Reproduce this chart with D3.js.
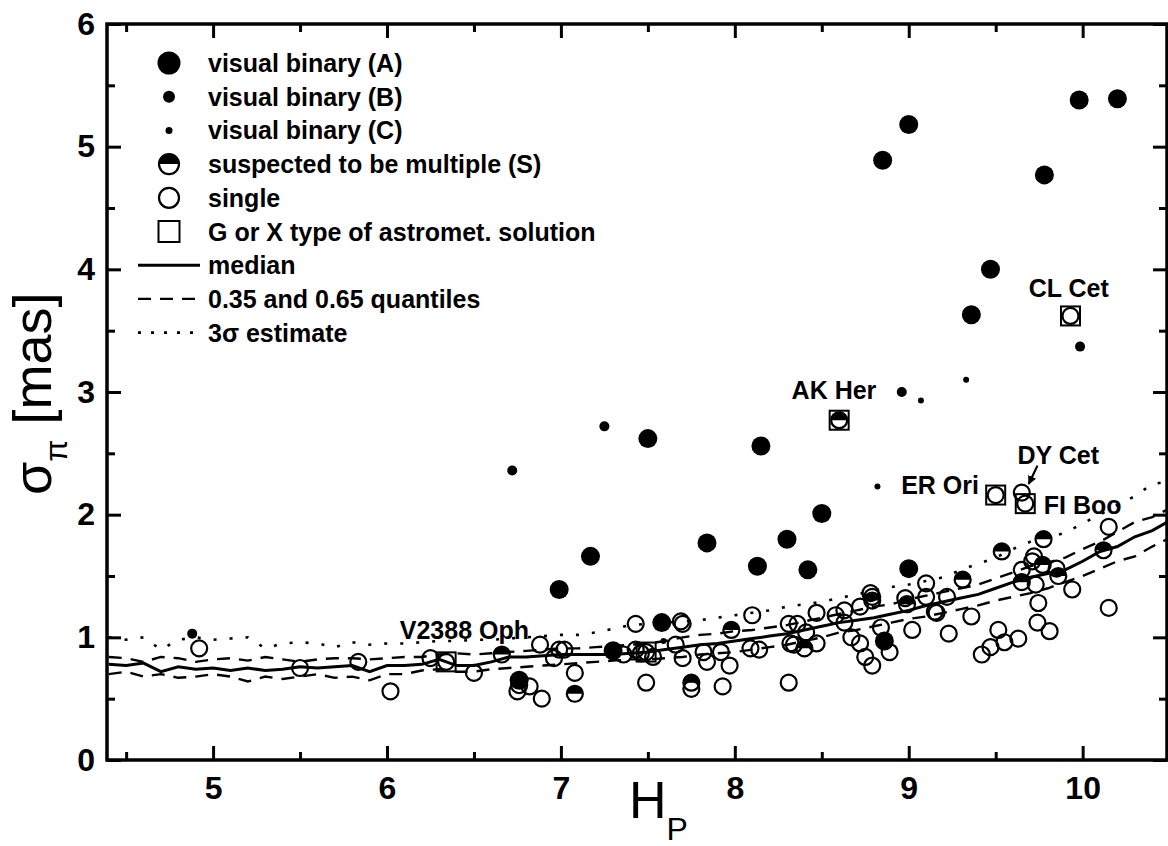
<!DOCTYPE html>
<html>
<head>
<meta charset="utf-8">
<script src="https://cdn.jsdelivr.net/npm/d3@7"></script>
<style>
body { margin: 0; background: #fff; }
text { font-family: Arial, "Liberation Sans", sans-serif; }
</style>
</head>
<body>
<div id="chart"></div>
<script>
// ---- values (H_P, sigma_pi in mas) ----
var hpGrid = [4.4,4.5,4.6,4.7,4.8,4.9,5.0,5.1,5.2,5.3,5.4,5.5,5.6,5.7,5.8,5.9,6.0,6.1,6.2,6.3,
  6.4,6.5,6.6,6.7,6.8,6.9,7.0,7.1,7.2,7.3,7.4,7.5,7.6,7.7,7.8,7.9,8.0,8.1,8.2,8.3,
  8.4,8.5,8.6,8.7,8.8,8.9,9.0,9.1,9.2,9.3,9.4,9.5,9.6,9.7,9.8,9.9,10.0,10.1,10.2,10.3,10.4,10.5];

var median = [0.78,0.77,0.79,0.72,0.76,0.74,0.75,0.73,0.75,0.73,0.74,0.76,0.75,0.76,0.77,0.72,0.77,0.77,0.78,0.82,
  0.77,0.77,0.80,0.84,0.84,0.85,0.86,0.86,0.86,0.86,0.87,0.88,0.90,0.92,0.94,0.95,0.97,0.99,1.01,1.03,
  1.06,1.09,1.12,1.14,1.16,1.19,1.22,1.26,1.29,1.32,1.35,1.40,1.45,1.49,1.52,1.55,1.62,1.70,1.74,1.82,1.87,1.95];

var q65 = [0.84,0.83,0.80,0.84,0.83,0.80,0.82,0.83,0.81,0.84,0.82,0.80,0.82,0.83,0.83,0.82,0.83,0.84,0.84,0.86,
  0.87,0.86,0.87,0.88,0.89,0.90,0.91,0.91,0.92,0.93,0.94,0.95,0.97,1.00,1.02,1.03,1.05,1.06,1.08,1.10,
  1.13,1.16,1.19,1.22,1.25,1.27,1.31,1.34,1.37,1.40,1.43,1.48,1.53,1.58,1.61,1.65,1.72,1.78,1.86,1.94,1.98,2.05];

var q35 = [0.70,0.72,0.68,0.70,0.67,0.68,0.70,0.68,0.64,0.68,0.66,0.68,0.70,0.67,0.68,0.65,0.70,0.70,0.73,0.74,
  0.72,0.72,0.74,0.75,0.76,0.77,0.78,0.79,0.80,0.81,0.82,0.82,0.83,0.84,0.86,0.87,0.88,0.90,0.92,0.94,
  0.97,1.00,1.04,1.06,1.09,1.12,1.15,1.17,1.20,1.23,1.26,1.30,1.33,1.36,1.40,1.45,1.50,1.56,1.62,1.66,1.74,1.81];

var sigma3 = [1.00,0.98,1.00,0.90,0.98,1.00,0.98,0.99,1.00,0.91,0.95,0.96,0.95,0.92,0.96,0.94,0.95,0.95,0.96,0.97,
  0.97,0.98,0.98,0.99,1.00,1.01,1.02,1.02,1.04,1.07,1.10,1.11,1.12,1.13,1.14,1.16,1.18,1.20,1.22,1.25,
  1.27,1.29,1.32,1.35,1.38,1.41,1.43,1.46,1.49,1.55,1.60,1.65,1.72,1.78,1.82,1.85,1.93,2.00,2.08,2.15,2.25,2.27];

var visA = [[6.99,1.39],[7.17,1.66],[7.50,2.62],[7.84,1.77],[8.15,2.56],[8.13,1.58],[8.30,1.80],[8.50,2.01],
  [8.42,1.55],[9.00,1.56],[7.58,1.12],[7.30,0.89],[6.76,0.65],[8.86,0.97],[8.85,4.89],[9.00,5.18],
  [9.78,4.77],[9.47,4.00],[9.36,3.63],[9.98,5.38],[10.20,5.39]];

var visB = [[4.88,1.03],[6.72,2.36],[7.25,2.72],[8.96,3.00],[9.985,3.37]];

var visC = [[9.33,3.10],[9.07,2.93],[8.82,2.23],[7.59,0.97]];

var suspected = [[6.66,0.86],[7.08,0.54],[7.75,0.63],[7.98,1.06],[8.40,0.91],[8.79,1.30],[8.99,1.27],
  [9.31,1.47],[9.535,1.70],[9.65,1.45],[9.77,1.59],[9.775,1.80],[9.86,1.50],[10.12,1.71],[8.60,2.77]];

var single = [[4.92,0.91],[5.50,0.75],[5.835,0.80],[6.02,0.56],[6.25,0.83],[6.34,0.80],[6.50,0.71],
  [6.75,0.56],[6.76,0.61],[6.82,0.60],[6.89,0.50],[6.88,0.94],[6.96,0.83],[6.99,0.90],[7.02,0.90],[7.08,0.71],
  [7.36,0.86],[7.43,0.90],[7.46,0.87],[7.49,0.88],[7.53,0.84],[7.49,0.63],[7.43,1.11],[7.69,1.13],[7.70,1.11],
  [7.66,0.94],[7.70,0.83],[7.75,0.58],[7.82,0.88],[7.92,0.88],[7.84,0.80],[7.97,0.77],[8.09,0.91],[8.14,0.90],
  [7.93,0.60],[8.10,1.18],[8.31,0.63],[8.31,1.11],[8.36,1.11],[8.41,1.04],[8.32,0.95],[8.34,0.94],[8.47,0.95],
  [8.47,1.20],[8.58,1.18],[8.63,1.22],[8.63,1.12],[8.72,1.25],[8.78,1.36],[8.79,1.33],[8.98,1.32],[8.67,1.00],
  [8.72,0.95],[8.75,0.84],[8.79,0.77],[8.84,1.08],[8.89,0.88],[9.02,1.06],[9.10,1.44],[9.10,1.33],[9.15,1.21],
  [9.16,1.20],[9.22,1.33],[9.23,1.03],[9.36,1.17],[9.42,0.86],[9.47,0.92],[9.515,1.06],[9.55,0.96],[9.63,0.99],
  [9.65,1.55],[9.72,1.66],[9.71,1.62],[9.73,1.43],[9.745,1.28],[9.74,1.12],[9.81,1.05],[9.85,1.56],[9.94,1.39],
  [10.15,1.24],[10.15,1.90],[9.50,2.16],[9.65,2.18],[9.67,2.09],[9.93,3.62]];

// G or X type astrometric solution
var gxSolution = [[6.34,0.80],[7.49,0.88],[8.60,2.77],[9.50,2.16],[9.67,2.09],[9.93,3.62]];

var starNames = ["V2388 Oph", "AK Her", "ER Ori", "DY Cet", "FI Boo", "CL Cet"];
var starNameAt = [[6.445,1.06],[8.57,3.02],[9.18,2.24],[9.86,2.49],[10.0,2.08],[9.92,3.85]];

var xTicks = [5,6,7,8,9,10];
var xMinor = [4.5,5.5,6.5,7.5,8.5,9.5];
var yTicks = [0,1,2,3,4,5,6];
var yMinor = [0.5,1.5,2.5,3.5,4.5,5.5];

var legendNames = ["visual binary (A)","visual binary (B)","visual binary (C)","suspected to be multiple (S)",
  "single","G or X type of astromet. solution","median","0.35 and 0.65 quantiles","3\u03c3 estimate"];

// set the dimensions and margins of the graph
var margin = {top: 24, right: 1, bottom: 86, left: 107},
    width = 1168 - margin.left - margin.right,
    height = 846 - margin.top - margin.bottom;

var x = d3.scaleLinear().domain([4.39, 10.485]).range([0, width]);
var y = d3.scaleLinear().domain([0, 6]).range([height, 0]);

var svg = d3.select("#chart").append("svg")
    .attr("width", 1168)
    .attr("height", 846)
  .append("g")
    .attr("transform", "translate(" + margin.left + "," + margin.top + ")");

svg.append("clipPath").attr("id", "clip")
  .append("rect").attr("width", width).attr("height", height);

// curves
var line = d3.line()
    .x(function(d) { return x(d[0]); })
    .y(function(d) { return y(d[1]); });

function curve(vals, dash, w) {
  svg.append("path")
    .datum(hpGrid.map(function(h, i) { return [h, vals[i]]; }))
    .attr("clip-path", "url(#clip)")
    .attr("fill", "none")
    .attr("stroke", "#000")
    .attr("stroke-width", w)
    .attr("stroke-dasharray", dash)
    .attr("d", line);
}
curve(sigma3, "3,13", 2.6);
curve(q65, "13,9", 2.4);
curve(q35, "13,9", 2.4);
curve(median, null, 3);

// markers
var halfTop = function(r) { return "M" + (-r) + ",0A" + r + "," + r + " 0 0 1 " + r + ",0Z"; };

svg.selectAll(".single").data(single).enter().append("circle")
    .attr("class", "single")
    .attr("cx", function(d) { return x(d[0]); })
    .attr("cy", function(d) { return y(d[1]); })
    .attr("r", 8)
    .attr("fill", "none").attr("stroke", "#000").attr("stroke-width", 2.2);

var sg = svg.selectAll(".susp").data(suspected).enter().append("g")
    .attr("class", "susp")
    .attr("transform", function(d) { return "translate(" + x(d[0]) + "," + y(d[1]) + ")"; });
sg.append("path").attr("d", halfTop(8)).attr("fill", "#000");
sg.append("circle").attr("r", 8).attr("fill", "none").attr("stroke", "#000").attr("stroke-width", 2.2);

function dots(data, r) {
  svg.append("g").selectAll("circle").data(data).enter().append("circle")
    .attr("cx", function(d) { return x(d[0]); })
    .attr("cy", function(d) { return y(d[1]); })
    .attr("r", r)
    .attr("fill", "#000");
}
dots(visA, 9.5);
dots(visB, 5);
dots(visC, 3);

svg.selectAll(".gx").data(gxSolution).enter().append("rect")
    .attr("class", "gx")
    .attr("x", function(d) { return x(d[0]) - 9.5; })
    .attr("y", function(d) { return y(d[1]) - 9.5; })
    .attr("width", 19).attr("height", 19)
    .attr("fill", "none").attr("stroke", "#000").attr("stroke-width", 2);

// star names
svg.selectAll(".star").data(starNames).enter().append("text")
    .attr("class", "star")
    .attr("x", function(d, i) { return x(starNameAt[i][0]); })
    .attr("y", function(d, i) { return y(starNameAt[i][1]); })
    .attr("dy", "0.36em")
    .attr("text-anchor", "middle")
    .style("font-size", "25px")
    .style("font-weight", "700")
    .text(function(d) { return d; });

// arrow to DY Cet
svg.append("defs").append("marker")
    .attr("id", "arrow").attr("viewBox", "0 0 10 10")
    .attr("refX", 9).attr("refY", 5)
    .attr("markerWidth", 4).attr("markerHeight", 4)
    .attr("orient", "auto")
  .append("path").attr("d", "M0,0L10,5L0,10Z").attr("fill", "#000");
svg.append("line")
    .attr("x1", x(9.74)).attr("y1", y(2.40))
    .attr("x2", x(9.69)).attr("y2", y(2.25))
    .attr("stroke", "#000").attr("stroke-width", 2.2)
    .attr("marker-end", "url(#arrow)");

// axes, ticks inward on all four sides
function ticks(axis, tx, ty, labels) {
  var g = svg.append("g")
      .attr("transform", "translate(" + tx + "," + ty + ")")
      .call(axis);
  g.select(".domain").remove();
  g.selectAll("line").attr("stroke-width", 3);
  g.selectAll("text")
      .style("font-size", "32px")
      .style("font-weight", "700")
      .style("font-family", "Arial, 'Liberation Sans', sans-serif")
      .attr("fill", "#000");
  if (!labels) g.selectAll("text").remove();
  return g;
}
ticks(d3.axisBottom(x).tickValues(xTicks).tickSize(-14).tickPadding(16).tickFormat(d3.format("d")), 0, height, true);
ticks(d3.axisBottom(x).tickValues(xMinor).tickSize(-8), 0, height, false);
ticks(d3.axisTop(x).tickValues(xTicks).tickSize(-14), 0, 0, false);
ticks(d3.axisTop(x).tickValues(xMinor).tickSize(-8), 0, 0, false);
ticks(d3.axisLeft(y).tickValues(yTicks).tickSize(-14).tickPadding(12).tickFormat(d3.format("d")), 0, 0, true);
ticks(d3.axisLeft(y).tickValues(yMinor).tickSize(-8), 0, 0, false);
ticks(d3.axisRight(y).tickValues(yTicks).tickSize(-14), width, 0, false);
ticks(d3.axisRight(y).tickValues(yMinor).tickSize(-8), width, 0, false);

svg.append("rect")
    .attr("width", width).attr("height", height)
    .attr("fill", "none").attr("stroke", "#000").attr("stroke-width", 3.5);

// axis titles
var xl = svg.append("text")
    .attr("x", 522).attr("y", height + 58)
    .style("font-size", "52px");
xl.append("tspan").text("H");
xl.append("tspan").attr("dy", 22).style("font-size", "32px").text("P");

var yl = svg.append("text")
    .attr("transform", "translate(" + (51 - margin.left) + "," + (495 - margin.top) + ") rotate(-90)")
    .style("font-size", "54px");
yl.append("tspan").text("\u03c3");
yl.append("tspan").attr("dy", 16).style("font-size", "32px").text("\u03c0");
yl.append("tspan").attr("dy", -16).text(" [mas]");

// legend
var leg = svg.append("g").attr("transform", "translate(" + (169 - margin.left) + "," + (63 - margin.top) + ")");
var rowH = 33.7;
leg.selectAll("text").data(legendNames).enter().append("text")
    .attr("x", 39)
    .attr("y", function(d, i) { return i * rowH; })
    .attr("dy", "0.36em")
    .style("font-size", "25px")
    .style("font-weight", "700")
    .text(function(d) { return d; });
leg.append("circle").attr("cy", 0).attr("r", 11.5).attr("fill", "#000");
leg.append("circle").attr("cy", rowH).attr("r", 6).attr("fill", "#000");
leg.append("circle").attr("cy", 2 * rowH).attr("r", 3.5).attr("fill", "#000");
leg.append("path").attr("transform", "translate(0," + 3 * rowH + ")").attr("d", halfTop(10)).attr("fill", "#000");
leg.append("circle").attr("cy", 3 * rowH).attr("r", 10).attr("fill", "none").attr("stroke", "#000").attr("stroke-width", 2.2);
leg.append("circle").attr("cy", 4 * rowH).attr("r", 10).attr("fill", "none").attr("stroke", "#000").attr("stroke-width", 2.2);
leg.append("rect").attr("x", -10.5).attr("y", 5 * rowH - 10.5).attr("width", 21).attr("height", 21)
    .attr("fill", "none").attr("stroke", "#000").attr("stroke-width", 2);
[[null, 3], ["13,9", 2.4], ["3,10", 2.6]].forEach(function(s, i) {
  leg.append("line")
      .attr("x1", -31).attr("x2", 31)
      .attr("y1", (6 + i) * rowH).attr("y2", (6 + i) * rowH)
      .attr("stroke", "#000").attr("stroke-width", s[1])
      .attr("stroke-dasharray", s[0]);
});
</script>
</body>
</html>
